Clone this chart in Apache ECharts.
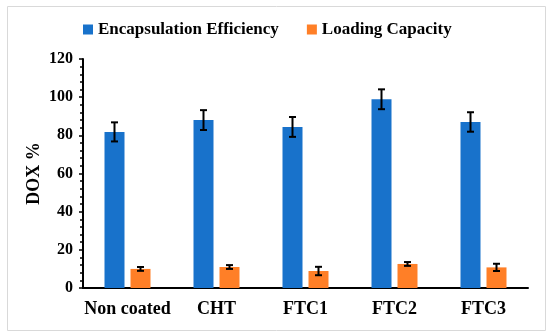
<!DOCTYPE html>
<html>
<head>
<meta charset="utf-8">
<script src="https://cdn.jsdelivr.net/npm/echarts@6/dist/echarts.min.js"></script>
<style>
html,body{margin:0;padding:0;background:#fff;}
#chart{width:550px;height:334px;}
</style>
</head>
<body>
<div id="chart"></div>
<script>
const categories = ['Non coated', 'CHT', 'FTC1', 'FTC2', 'FTC3'];
const encapsulation = [81.8, 88.0, 84.4, 98.9, 87.0];
const encapsulationErr = [5.0, 5.2, 5.2, 5.2, 5.1];
const loading = [10.0, 11.0, 8.9, 12.6, 10.8];
const loadingErr = [1.0, 1.0, 2.2, 1.0, 1.9];
const yTicks = [0, 20, 40, 60, 80, 100, 120];

const FONT = '"Liberation Serif", "Times New Roman", serif';
const BAR_W = 20;
const OFFSET = 13;

function errorSeries(name, vals, errs, shift) {
  return {
    type: 'custom',
    name: name + ' error',
    z: 10,
    silent: true,
    renderItem: function (params, api) {
      const i = api.value(0);
      const v = api.value(1);
      const e = api.value(2);
      const hi = api.coord([i, v + e]);
      const lo = api.coord([i, v - e]);
      const x = hi[0] + shift;
      const cap = 3.5;
      const style = { stroke: '#000', lineWidth: 2 };
      return {
        type: 'group',
        children: [
          { type: 'line', shape: { x1: x, y1: hi[1], x2: x, y2: lo[1] }, style: style },
          { type: 'line', shape: { x1: x - cap, y1: hi[1], x2: x + cap, y2: hi[1] }, style: style },
          { type: 'line', shape: { x1: x - cap, y1: lo[1], x2: x + cap, y2: lo[1] }, style: style }
        ]
      };
    },
    data: vals.map((v, i) => [i, v, errs[i]])
  };
}

const chart = echarts.init(document.getElementById('chart'));
chart.setOption({
  animation: false,
  textStyle: { fontFamily: FONT },
  graphic: [{
    type: 'rect', left: 5, top: 4,
    shape: { width: 538, height: 324 },
    style: { fill: 'none', stroke: '#d9d9d9', lineWidth: 1 },
    silent: true
  }],
  legend: {
    top: 16,
    left: 78,
    itemWidth: 10,
    itemHeight: 10,
    itemGap: 28,
    icon: 'rect',
    data: ['Encapsulation Efficiency', 'Loading Capacity'],
    textStyle: { fontFamily: FONT, fontWeight: 'bold', fontSize: 17, color: '#000' }
  },
  grid: { left: 83, right: 22, top: 59, bottom: 46 },
  xAxis: {
    type: 'category',
    data: categories,
    axisLine: { show: true, lineStyle: { color: '#000', width: 2 } },
    axisTick: { show: false },
    axisLabel: { interval: 0, color: '#000', fontFamily: FONT, fontWeight: 'bold', fontSize: 18, margin: 12 }
  },
  yAxis: {
    type: 'value',
    min: yTicks[0],
    max: yTicks[yTicks.length - 1],
    interval: 20,
    name: 'DOX %',
    nameLocation: 'middle',
    nameGap: 40,
    nameMoveOverlap: false,
    nameTextStyle: { color: '#000', fontFamily: FONT, fontWeight: 'bold', fontSize: 18 },
    axisLine: { show: true, lineStyle: { color: '#000', width: 2 } },
    axisTick: { show: true, length: 4, lineStyle: { color: '#000', width: 1.5 } },
    minorTick: { show: true, splitNumber: 5, length: 3, lineStyle: { color: '#000', width: 1.5 } },
    splitLine: { show: false },
    axisLabel: { color: '#000', fontFamily: FONT, fontWeight: 'bold', fontSize: 16, margin: 10 }
  },
  series: [
    {
      name: 'Encapsulation Efficiency',
      type: 'bar',
      data: encapsulation,
      barWidth: BAR_W,
      barGap: '30%',
      itemStyle: { color: '#1872CB' }
    },
    {
      name: 'Loading Capacity',
      type: 'bar',
      data: loading,
      barWidth: BAR_W,
      barGap: '30%',
      itemStyle: { color: '#FF7F27' }
    },
    errorSeries('Encapsulation Efficiency', encapsulation, encapsulationErr, -OFFSET),
    errorSeries('Loading Capacity', loading, loadingErr, OFFSET)
  ]
});
</script>
</body>
</html>
